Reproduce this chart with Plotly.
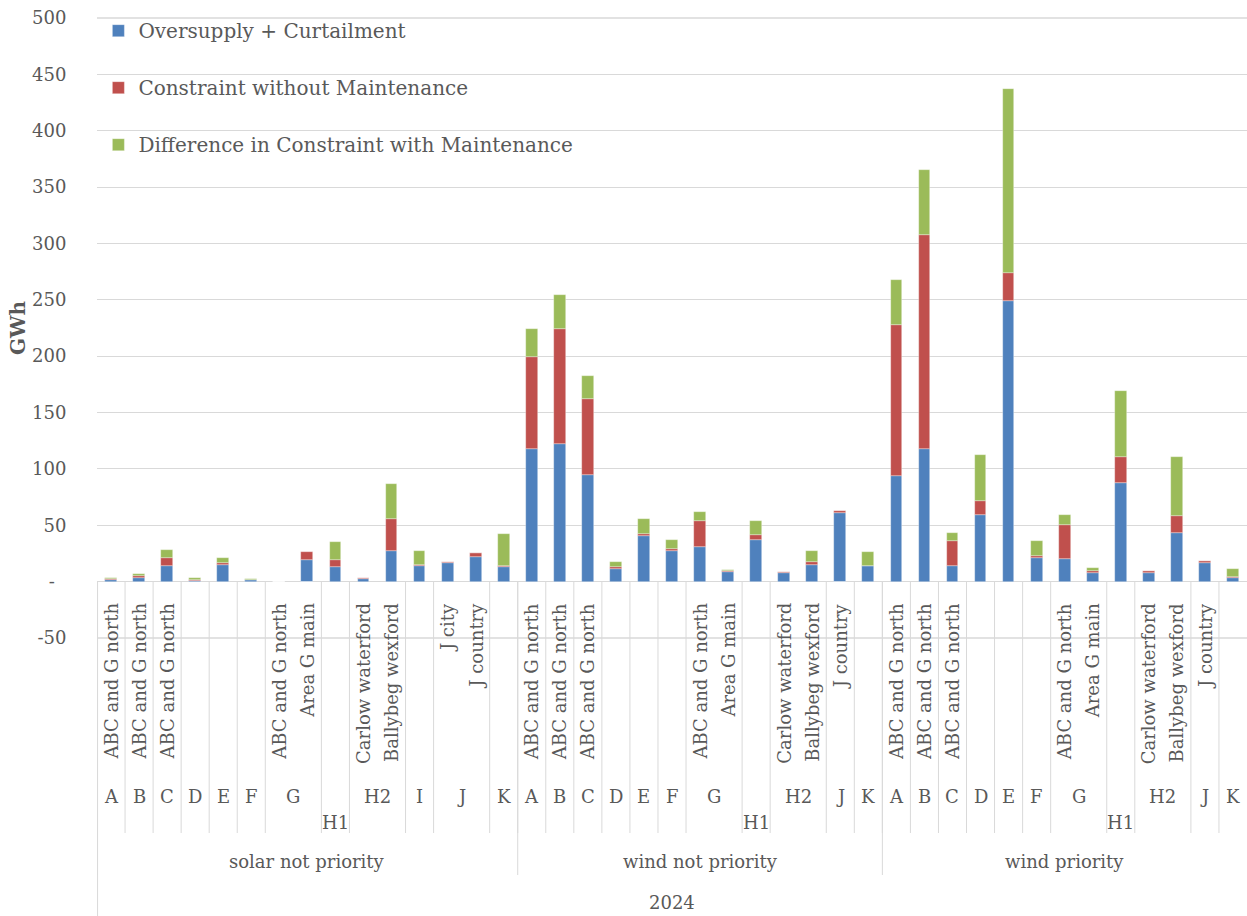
import plotly.graph_objects as go

# ---- data -------------------------------------------------------------
YEAR = "2024"
scenarios = ["solar not priority", "wind not priority", "wind priority"]
series_names = ["Oversupply + Curtailment",
                "Constraint without Maintenance",
                "Difference in Constraint with Maintenance"]
series_colors = ["#4F81BD", "#C0504D", "#9BBB59"]

solar_region = ["A", "B", "C", "D", "E", "F", "G", "G", "H1", "H2", "H2", "I", "J", "J", "K"]
solar_site = ["ABC and G north", "ABC and G north", "ABC and G north", "", "", "",
              "ABC and G north", "Area G main", "", "Carlow waterford",
              "Ballybeg wexford", "", "J city", "J country", ""]
solar_oversupply = [1.5, 3.3, 14.3, 0.9, 15.2, 1.5, 0.0, 19.0, 12.8, 2.4, 27.1, 13.7, 16.1, 21.7, 12.8]
solar_constraint = [1.2, 1.8, 6.8, 0.6, 0.9, 0.3, 0.0, 7.5, 6.0, 0.6, 28.9, 0.9, 1.2, 3.3, 1.5]
solar_maint_diff = [0.9, 2.0, 7.2, 1.5, 5.3, 0.6, 0.0, -0.7, 16.3, 0.3, 30.6, 12.8, 0.3, 0.3, 28.3]

wind_region = ["A", "B", "C", "D", "E", "F", "G", "G", "H1", "H2", "H2", "J", "K"]
wind_site = ["ABC and G north", "ABC and G north", "ABC and G north", "", "", "",
             "ABC and G north", "Area G main", "", "Carlow waterford",
             "Ballybeg wexford", "J country", ""]

wind_np_oversupply = [117.8, 122.2, 94.4, 11.5, 40.2, 27.2, 31.1, 8.3, 37.0, 7.7, 14.8, 60.9, 13.6]
wind_np_constraint = [81.3, 101.5, 67.4, 1.2, 1.8, 1.5, 23.0, 0.9, 4.7, 0.6, 3.0, 1.8, 0.6]
wind_np_maint_diff = [25.2, 31.0, 21.0, 4.5, 13.9, 8.3, 7.4, 1.2, 12.4, 0.3, 9.1, -0.7, 12.4]

wind_p_oversupply = [93.5, 117.8, 14.2, 58.9, 248.7, 20.7, 19.8, 7.7, 87.6, 8.0, 42.9, 16.9, 3.6]
wind_p_constraint = [133.9, 189.5, 21.9, 12.7, 24.8, 2.1, 30.5, 1.8, 23.4, 1.2, 15.4, 1.2, 0.2]
wind_p_maint_diff = [40.5, 57.7, 6.8, 40.9, 163.4, 13.6, 9.2, 2.3, 58.3, 0.6, 52.1, 0.3, 7.7]

y_tickvals = [-50, 0, 50, 100, 150, 200, 250, 300, 350, 400, 450, 500]
y_ticktext = ["-50", "-\u00a0\u00a0", "50", "100", "150", "200", "250",
              "300", "350", "400", "450", "500"]

# ---- assemble ---------------------------------------------------------
sections = [
    (scenarios[0], solar_region, solar_site,
     [solar_oversupply, solar_constraint, solar_maint_diff]),
    (scenarios[1], wind_region, wind_site,
     [wind_np_oversupply, wind_np_constraint, wind_np_maint_diff]),
    (scenarios[2], wind_region, wind_site,
     [wind_p_oversupply, wind_p_constraint, wind_p_maint_diff]),
]

series_vals = [[], [], []]
regions, sites, section_spans = [], [], []
for name, reg, site, vals in sections:
    start = len(regions)
    regions += reg
    sites += site
    for k in range(3):
        series_vals[k] += vals[k]
    section_spans.append((name, start, len(regions) - 1))

n = len(regions)
xpos = list(range(n))

FONT = "DejaVu Serif"
TXT = "#595959"
GRID = "#D9D9D9"

# layout geometry (pixels)
W, H = 1247, 916
M_L, M_R, M_T, M_B = 97, 0, 18, 278
plot_h = H - M_T - M_B


def py(pixel_y):
    """paper y coordinate for a pixel row"""
    return (H - M_B - pixel_y) / plot_h


fig = go.Figure()
for k in range(3):
    fig.add_trace(go.Bar(
        x=xpos, y=series_vals[k], name=series_names[k],
        legendgroup=series_names[k],
        marker=dict(color=series_colors[k],
                    line=dict(color="rgba(255,255,255,0.55)", width=0.6)),
        width=0.42,
    ))

shapes, annotations = [], []

# gridlines on the top and bottom edges of the value range
for yp in (0.0, 1.0):
    shapes.append(dict(type="line", xref="paper", yref="paper",
                       x0=0, x1=1, y0=yp, y1=yp,
                       line=dict(color=GRID, width=1.3), layer="below"))

# level-1 (site) labels, rotated
for i, s in enumerate(sites):
    if s:
        annotations.append(dict(
            x=i, y=py(601), xref="x", yref="paper", text=s, textangle=-90,
            showarrow=False, xanchor="center", yanchor="top",
            font=dict(family=FONT, size=18, color=TXT)))

# level-2 (region) spans
lowered = {"H1"}
spans = []
for name, s0, s1 in section_spans:
    i = s0
    while i <= s1:
        j = i
        while j + 1 <= s1 and regions[j + 1] == regions[i]:
            j += 1
        spans.append((regions[i], i, j))
        i = j + 1

for reg, a, b in spans:
    annotations.append(dict(
        x=(a + b) / 2, y=py(822 if reg in lowered else 797), xref="x", yref="paper",
        text=reg, showarrow=False, xanchor="center", yanchor="middle",
        font=dict(family=FONT, size=18, color=TXT)))
    shapes.append(dict(type="line", xref="x", yref="paper",
                       x0=a - 0.5, x1=a - 0.5, y0=py(582), y1=py(833),
                       line=dict(color=GRID, width=1)))

# level-3 (scenario) labels and boundaries
for name, s0, s1 in section_spans:
    annotations.append(dict(
        x=(s0 + s1) / 2, y=py(861), xref="x", yref="paper", text=name,
        showarrow=False, xanchor="center", yanchor="middle",
        font=dict(family=FONT, size=18, color=TXT)))
    shapes.append(dict(type="line", xref="x", yref="paper",
                       x0=s0 - 0.5, x1=s0 - 0.5, y0=py(582), y1=py(875),
                       line=dict(color=GRID, width=1)))

# outer left boundary and year label
shapes.append(dict(type="line", xref="paper", yref="paper",
                   x0=0.0005, x1=0.0005, y0=py(582), y1=py(H),
                   line=dict(color=GRID, width=1)))
annotations.append(dict(
    x=(n - 1) / 2, y=py(902), xref="x", yref="paper", text=YEAR,
    showarrow=False, xanchor="center", yanchor="middle",
    font=dict(family=FONT, size=18, color=TXT)))

fig.update_layout(
    width=W, height=H, autosize=False,
    margin=dict(l=M_L, r=M_R, t=M_T, b=M_B, pad=0),
    barmode="relative", bargap=0,
    plot_bgcolor="white", paper_bgcolor="white",
    font=dict(family=FONT, color=TXT, size=18),
    xaxis=dict(range=[-0.5, n - 0.5], showticklabels=False, showgrid=False,
               zeroline=False, showline=False, ticks=""),
    yaxis=dict(range=[-50, 500], tickvals=y_tickvals, ticktext=y_ticktext,
               showgrid=True, gridcolor=GRID, gridwidth=1.3,
               zeroline=True, zerolinecolor=GRID, zerolinewidth=1.3,
               showline=False, ticks="outside", ticklen=26,
               tickcolor="rgba(0,0,0,0)",
               tickfont=dict(family=FONT, size=18, color=TXT),
               title=dict(text="<b>GWh</b>", standoff=1,
                          font=dict(family=FONT, size=20, color=TXT))),
    legend=dict(x=0.0012, y=1.011, xanchor="left", yanchor="top",
                traceorder="grouped", tracegroupgap=28,
                bgcolor="rgba(0,0,0,0)",
                font=dict(family=FONT, size=20, color=TXT)),
    shapes=shapes,
    annotations=annotations,
)

fig.write_html("out.html")
